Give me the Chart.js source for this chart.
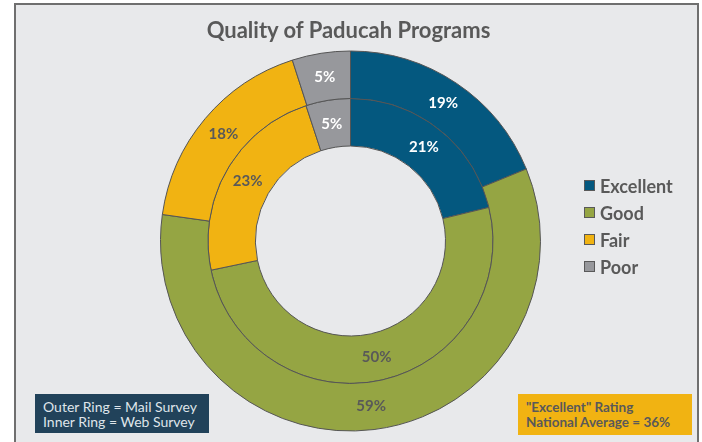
<!DOCTYPE html>
<html>
<head>
<meta charset="utf-8">
<script src="https://cdn.jsdelivr.net/npm/chart.js@4/dist/chart.umd.min.js"></script>
<style>
  html, body { margin: 0; padding: 0; background: #ffffff; }
  #wrap { position: relative; width: 702px; height: 442px; overflow: hidden; background: #ffffff; }
  #frame { position: absolute; left: 14px; top: 3px; width: 681px; height: 460px;
           background: #e8e9eb; border: 2px solid #6f6f6f; }
  canvas { position: absolute; left: 0; top: 0; }
  #title { position: absolute; left: 0; width: 697px; top: 16px; text-align: center;
           font: bold 22px Lato, "Open Sans", sans-serif; color: #595959; }
  #legend { position: absolute; left: 584px; top: 172px; font: bold 18px Lato, sans-serif; color: #595959; }
  .li { height: 27px; line-height: 22px; display: flex; align-items: center; }
  .sw { width: 9px; height: 9px; border: 1px solid #595959; margin-right: 5px; }
  #note1 { position: absolute; left: 35px; top: 394px; width: 174px; height: 39px; background: #21425a;
           color: #dfe5ea; font: 14px Lato, sans-serif; line-height: 15px; box-sizing: border-box; padding: 5px 0 0 8px; }
  #note2 { position: absolute; left: 518px; top: 394px; width: 174px; height: 41px; background: #f1b312;
           color: #595959; font: bold 13.5px Lato, sans-serif; line-height: 15px; box-sizing: border-box; padding: 6px 0 0 8px; }
</style>
</head>
<body>
<div id="wrap">
  <div id="frame"></div>
  <canvas id="c" width="702" height="442"></canvas>
  <div id="title">Quality of Paducah Programs</div>
  <div id="legend"></div>
  <div id="note1">Outer Ring = Mail Survey<br>Inner Ring = Web Survey</div>
  <div id="note2">"Excellent" Rating<br>National Average = 36%</div>
</div>
<script>
const categories = ["Excellent", "Good", "Fair", "Poor"];
const mailSurvey = [19, 59, 18, 5];   // outer ring
const webSurvey  = [21, 50, 23, 5];   // inner ring
const colors = ["#04587f", "#95a543", "#f1b312", "#97989c"];
const labelColors = ["#ffffff", "#595959", "#595959", "#ffffff"];

// legend
const lg = document.getElementById('legend');
categories.forEach((c, i) => {
  const d = document.createElement('div');
  d.className = 'li';
  d.innerHTML = '<span class="sw" style="background:' + colors[i] + '"></span>' + c;
  lg.appendChild(d);
});

const labelPlugin = {
  id: 'arcLabels',
  afterDatasetsDraw(chart) {
    const ctx = chart.ctx;
    ctx.save();
    ctx.font = 'bold 15px Lato, sans-serif';
    ctx.textAlign = 'center';
    ctx.textBaseline = 'middle';
    chart.data.datasets.forEach((ds, di) => {
      const meta = chart.getDatasetMeta(di);
      meta.data.forEach((arc, i) => {
        const p = arc.tooltipPosition();
        ctx.fillStyle = labelColors[i];
        ctx.fillText(ds.data[i] + '%', p.x, p.y);
      });
    });
    ctx.restore();
  }
};

new Chart(document.getElementById('c'), {
  type: 'doughnut',
  data: {
    labels: categories,
    datasets: [
      { label: 'Mail Survey', data: mailSurvey, backgroundColor: colors, borderColor: '#555555', borderWidth: 1 },
      { label: 'Web Survey', data: webSurvey, backgroundColor: colors, borderColor: '#555555', borderWidth: 1 }
    ]
  },
  options: {
    responsive: false,
    animation: false,
    events: [],
    cutout: '50%',
    hoverOffset: 0,
    layout: { padding: { left: 160, right: 161, top: 50, bottom: 10 } },
    plugins: { legend: { display: false }, tooltip: { enabled: false }, title: { display: false } }
  },
  plugins: [labelPlugin]
});
</script>
</body>
</html>
